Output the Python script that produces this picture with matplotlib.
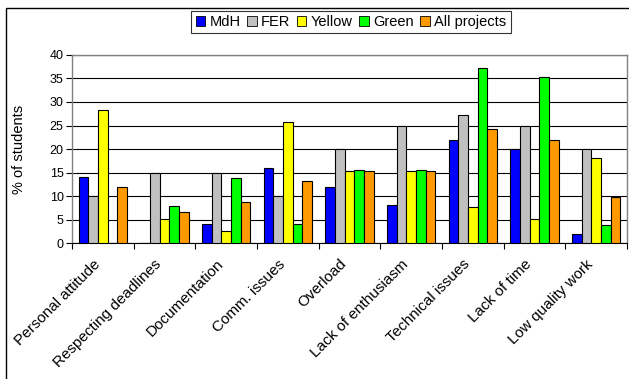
import matplotlib
matplotlib.use("Agg")
import matplotlib.pyplot as plt
import matplotlib.transforms as mtransforms
import numpy as np
from matplotlib.patches import Rectangle

plt.rcParams['font.family'] = ['Liberation Sans', 'DejaVu Sans']

categories = ["Personal attitude", "Respecting deadlines", "Documentation",
              "Comm. issues", "Overload", "Lack of enthusiasm",
              "Technical issues", "Lack of time", "Low quality work"]
series_names = ["MdH", "FER", "Yellow", "Green", "All projects"]
mdh = [14, 0, 4, 16, 12, 8, 22, 20, 2]
fer = [10, 15, 15, 10, 20, 25, 27.3, 25, 20]
yellow = [28.2, 5.2, 2.5, 25.7, 15.4, 15.4, 7.6, 5.1, 18]
green = [0, 7.9, 13.9, 4, 15.6, 15.6, 37.2, 35.3, 3.9]
all_projects = [12, 6.6, 8.8, 13.2, 15.4, 15.4, 24.2, 22, 9.8]
colors = ["#0000FF", "#C0C0C0", "#FFFF00", "#00FF00", "#FF9900"]

series = [mdh, fer, yellow, green, all_projects]

fig = plt.figure(figsize=(6.29, 3.79), dpi=100)
ax = fig.add_axes([0.1145, 0.3588, 0.8823, 0.4961])

x = np.arange(len(categories))
w = 0.156
for i, (vals, name, c) in enumerate(zip(series, series_names, colors)):
    ax.bar(x + (i - 2) * w, vals, width=w, color=c, edgecolor="#000000",
           linewidth=0.8, label=name, zorder=3)

ax.set_xlim(-0.5, len(categories) - 0.5)
ax.set_ylim(0, 40)
ax.set_yticks(np.arange(0, 41, 5))
ax.yaxis.grid(True, color="#000000", linewidth=0.8, zorder=0)
ax.set_axisbelow(True)

ax.set_xticks(x)
ax.set_xticklabels(categories, rotation=45, ha="right", rotation_mode="anchor",
                   fontsize=11)
ax.tick_params(axis="x", which="major", length=0, pad=10)
ax.set_xticks(np.arange(-0.5, len(categories), 1), minor=True)
ax.tick_params(axis="x", which="minor", length=4, color="#000000", width=0.8)
ax.tick_params(axis="y", labelsize=9, length=4, color="#000000", width=0.8, pad=2)

# nudge the slanted category labels to the left
shift = mtransforms.ScaledTranslation(-10 / 100, 0, fig.dpi_scale_trans)
for lbl in ax.get_xticklabels():
    lbl.set_transform(lbl.get_transform() + shift)

ax.set_ylabel("% of students", fontsize=10.5)
ax.yaxis.set_label_coords(-0.083, 0.5)

for s in ["top", "right", "left"]:
    ax.spines[s].set_color("#808080")
    ax.spines[s].set_linewidth(1.0)
ax.spines["bottom"].set_color("#000000")
ax.spines["bottom"].set_linewidth(0.8)

leg = fig.legend(loc="center", bbox_to_anchor=(0.558, 0.942), ncol=5,
                 fontsize=10.5, frameon=True, fancybox=False, edgecolor="#000000",
                 handlelength=0.65, handleheight=0.65, handletextpad=0.3,
                 columnspacing=0.45, borderpad=0.3, borderaxespad=0)
leg.get_frame().set_linewidth(0.8)
for h in leg.legend_handles:
    h.set_linewidth(0.6)

# outer chart frame
fig.patches.append(Rectangle((6 / 629, -0.1), 1.2, 1 - 8 / 379 + 0.1,
                             transform=fig.transFigure, fill=False,
                             edgecolor="#000000", linewidth=1.0))

fig.savefig("out.png", dpi=100)
